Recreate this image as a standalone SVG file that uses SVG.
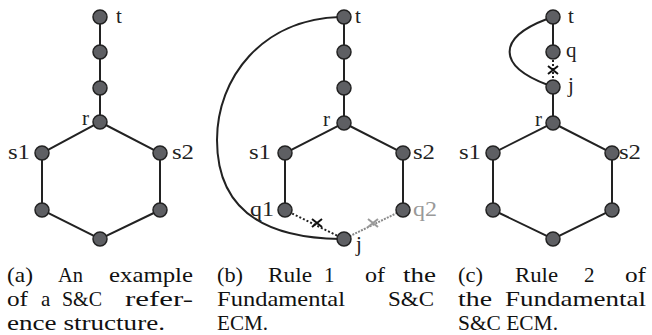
<svg xmlns="http://www.w3.org/2000/svg" width="652" height="335" viewBox="0 0 652 335">
<style>
.e{stroke:#222;stroke-width:2;fill:none}
.dot{stroke:#222;stroke-width:2;stroke-dasharray:2 2;fill:none}
.gdot{stroke:#8a8a8a;stroke-width:2;stroke-dasharray:2 1.2;fill:none}
.x{stroke:#111;stroke-width:2;fill:none}
.gx{stroke:#9a9a9a;stroke-width:2;fill:none}
.n{fill:#5e5f63;stroke:#222;stroke-width:1.5}
.l{font-family:"Liberation Serif",serif;font-size:21px;fill:#222}
.lg{font-family:"Liberation Serif",serif;font-size:21px;fill:#999}
.c text{font-family:"Liberation Serif",serif;font-size:21px;fill:#111}
</style>
<rect width="652" height="335" fill="#fff"/>
<g id="connectors">
  <path class="e" d="M100 17V122L42 153V210L100 239L160 210V153L100 122"/>
  <path class="e" d="M344 17V123L285 153V210M344 123L403 153V210"/>
  <path class="e" d="M340 17C262 19 217 78 217 140C217 205 258 238 340 239"/>
  <line class="dot" x1="285" y1="210" x2="344" y2="239"/>
  <line class="gdot" x1="403" y1="210" x2="344" y2="239"/>
  <path class="x" d="M312 219L322 227M312 227L322 219"/>
  <path class="gx" d="M368 219L378 227M368 227L378 219"/>
  <path class="e" d="M553 17V52M553 87V123L493 153V210L553 239L612 210V153L553 123"/>
  <path class="e" d="M547 19C497 38 497 66 548 85"/>
  <line class="dot" x1="553" y1="52" x2="553" y2="87"/>
  <path class="x" d="M548 66L558 74M548 74L558 66"/>
</g>
<g id="a_t"><circle class="n" cx="100" cy="17" r="7"/><text class="l" x="116" y="23">t</text></g>
<g id="a_n1"><circle class="n" cx="100" cy="52" r="7"/></g>
<g id="a_n2"><circle class="n" cx="100" cy="88" r="7"/></g>
<g id="a_r"><circle class="n" cx="100" cy="122" r="7"/><text class="l" x="82" y="125">r</text></g>
<g id="a_s1"><circle class="n" cx="42" cy="153" r="7"/><text class="l" x="8" y="159" textLength="22" lengthAdjust="spacingAndGlyphs">s1</text></g>
<g id="a_s2"><circle class="n" cx="160" cy="153" r="7"/><text class="l" x="172" y="159" textLength="22" lengthAdjust="spacingAndGlyphs">s2</text></g>
<g id="a_l"><circle class="n" cx="42" cy="210" r="7"/></g>
<g id="a_rr"><circle class="n" cx="160" cy="210" r="7"/></g>
<g id="a_b"><circle class="n" cx="100" cy="239" r="7"/></g>
<g id="b_t"><circle class="n" cx="344" cy="17" r="7"/><text class="l" x="355" y="23">t</text></g>
<g id="b_n1"><circle class="n" cx="344" cy="52" r="7"/></g>
<g id="b_n2"><circle class="n" cx="344" cy="88" r="7"/></g>
<g id="b_r"><circle class="n" cx="344" cy="123" r="7"/><text class="l" x="323" y="126">r</text></g>
<g id="b_s1"><circle class="n" cx="285" cy="153" r="7"/><text class="l" x="249" y="159" textLength="22" lengthAdjust="spacingAndGlyphs">s1</text></g>
<g id="b_s2"><circle class="n" cx="403" cy="153" r="7"/><text class="l" x="413" y="159" textLength="22" lengthAdjust="spacingAndGlyphs">s2</text></g>
<g id="b_q1"><circle class="n" cx="285" cy="210" r="7"/><text class="l" x="250" y="216" textLength="24" lengthAdjust="spacingAndGlyphs">q1</text></g>
<g id="b_q2"><circle class="n" cx="403" cy="210" r="7"/><text class="lg" x="413" y="216" textLength="24" lengthAdjust="spacingAndGlyphs">q2</text></g>
<g id="b_j"><circle class="n" cx="344" cy="239" r="7"/><text class="l" x="356" y="251">j</text></g>
<g id="c_t"><circle class="n" cx="553" cy="17" r="7"/><text class="l" x="568" y="23">t</text></g>
<g id="c_q"><circle class="n" cx="553" cy="52" r="7"/><text class="l" x="566" y="57">q</text></g>
<g id="c_j"><circle class="n" cx="553" cy="87" r="7"/><text class="l" x="568" y="92">j</text></g>
<g id="c_r"><circle class="n" cx="553" cy="123" r="7"/><text class="l" x="535" y="126">r</text></g>
<g id="c_s1"><circle class="n" cx="493" cy="153" r="7"/><text class="l" x="459" y="159" textLength="22" lengthAdjust="spacingAndGlyphs">s1</text></g>
<g id="c_s2"><circle class="n" cx="612" cy="153" r="7"/><text class="l" x="619" y="159" textLength="22" lengthAdjust="spacingAndGlyphs">s2</text></g>
<g id="c_l"><circle class="n" cx="493" cy="210" r="7"/></g>
<g id="c_rr"><circle class="n" cx="612" cy="210" r="7"/></g>
<g id="c_b"><circle class="n" cx="553" cy="239" r="7"/></g>
<g id="caption_a" class="c">
  <text x="7" y="282" textLength="26" lengthAdjust="spacingAndGlyphs">(a)</text>
  <text x="58" y="282" textLength="25" lengthAdjust="spacingAndGlyphs">An</text>
  <text x="109" y="282" textLength="84" lengthAdjust="spacingAndGlyphs">example</text>
  <text x="7" y="306" textLength="21" lengthAdjust="spacingAndGlyphs">of</text>
  <text x="41" y="306">a</text>
  <text x="62" y="306" textLength="40" lengthAdjust="spacingAndGlyphs">S&amp;C</text>
  <text x="125" y="306" textLength="68" lengthAdjust="spacingAndGlyphs">refer-</text>
  <text x="7" y="330" textLength="158" lengthAdjust="spacingAndGlyphs">ence structure.</text>
</g>
<g id="caption_b" class="c">
  <text x="217" y="282" textLength="26" lengthAdjust="spacingAndGlyphs">(b)</text>
  <text x="268" y="282" textLength="44" lengthAdjust="spacingAndGlyphs">Rule</text>
  <text x="324" y="282">1</text>
  <text x="365" y="282" textLength="20" lengthAdjust="spacingAndGlyphs">of</text>
  <text x="403" y="282" textLength="33" lengthAdjust="spacingAndGlyphs">the</text>
  <text x="217" y="306" textLength="128" lengthAdjust="spacingAndGlyphs">Fundamental</text>
  <text x="388" y="306" textLength="46" lengthAdjust="spacingAndGlyphs">S&amp;C</text>
  <text x="217" y="330" textLength="51" lengthAdjust="spacingAndGlyphs">ECM.</text>
</g>
<g id="caption_c" class="c">
  <text x="458" y="282" textLength="25" lengthAdjust="spacingAndGlyphs">(c)</text>
  <text x="515" y="282" textLength="43" lengthAdjust="spacingAndGlyphs">Rule</text>
  <text x="584" y="282">2</text>
  <text x="625" y="282" textLength="21" lengthAdjust="spacingAndGlyphs">of</text>
  <text x="458" y="306" textLength="34" lengthAdjust="spacingAndGlyphs">the</text>
  <text x="505" y="306" textLength="141" lengthAdjust="spacingAndGlyphs">Fundamental</text>
  <text x="458" y="330" textLength="100" lengthAdjust="spacingAndGlyphs">S&amp;C ECM.</text>
</g>
</svg>
